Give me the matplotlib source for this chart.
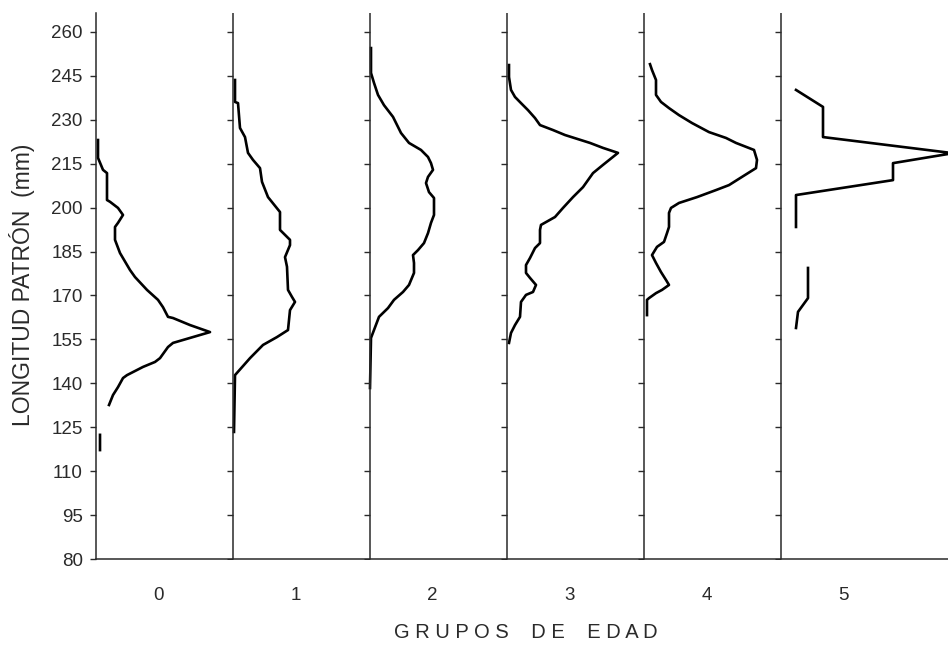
import matplotlib
matplotlib.use("Agg")
import matplotlib.pyplot as plt
import numpy as np

nan = np.nan

# longitud patron (mm) y frecuencia relativa (unidades del grafico) por grupo de edad
grupos = ["0", "1", "2", "3", "4", "5"]

long_g0 = [223.1, 217, 212.9, 211.8, 202.6, 202, 199.9, 197.5, 194.8, 193.4, 189, 184.5,
           178.7, 176.3, 171.9, 168.5, 166, 162.7, 162.3, 159.9, 157.5, 155.5, 153.8, 152.4,
           148.6, 147.3, 145.6, 142.8, 141.8, 138.7, 136, 132.6, nan, 122.4, 117.2]
frec_g0 = [2, 2, 7, 11, 11, 14, 22, 27, 22, 19, 19, 24, 34, 39, 51, 62, 67, 72, 77, 94,
           114, 94, 77, 72, 64, 59, 47, 31, 27, 22, 17, 13, nan, 4, 4]

long_g1 = [243.6, 236.1, 235.7, 227.2, 224.1, 218.7, 216.3, 213.5, 208.8, 203.6, 198.5,
           192.4, 189, 187.2, 183.1, 179.8, 171.9, 169.5, 167.8, 165, 158.2, 155.8, 153.1,
           148.6, 142.8, 123.4]
frec_g1 = [2, 2, 5, 7, 12, 15, 20, 27, 29, 35, 47, 47, 57, 57, 52, 54, 55, 59, 62, 57, 55,
           44, 30, 17, 2, 1]

long_g2 = [254.5, 246, 242.6, 238.5, 235, 231, 225.5, 222.1, 219.7, 217.3, 215.2, 212.9,
           210.5, 208.4, 205.3, 203.3, 197.5, 194.8, 191.3, 187.9, 185.5, 183.8, 181.1,
           177.7, 173.6, 171.2, 168.5, 165.7, 162.7, 158.2, 155.5, 138.4]
frec_g2 = [1, 1, 4, 8, 14, 23, 31, 39, 51, 58, 61, 63, 58, 56, 59, 64, 64, 61, 58, 54, 48,
           43, 44, 44, 39, 33, 24, 18, 9, 4, 1, 0]

long_g3 = [248.7, 244.6, 240.2, 237.8, 235.7, 233.3, 230.6, 228.2, 226.5, 224.8, 222.1,
           220.4, 218.7, 214.6, 211.8, 207, 203.6, 199.9, 196.8, 194.1, 192.4, 187.9, 186.2,
           182.8, 180.4, 177.7, 176, 173.6, 171.2, 170.2, 167.8, 162.7, 159.9, 157.2, 153.8]
frec_g3 = [2, 2, 4, 8, 14, 21, 28, 33, 46, 58, 83, 96, 111, 96, 86, 76, 66, 56, 48, 34, 33,
           33, 28, 23, 19, 19, 23, 29, 26, 19, 14, 13, 8, 4, 2]

long_g4 = [249, 247, 243.6, 238.5, 236.1, 234, 231.6, 228.9, 225.8, 223.8, 222.1, 219.7,
           216.3, 213.5, 210.5, 207.7, 206, 203.6, 201.6, 199.9, 198.2, 193.4, 191.3, 188.3,
           186.6, 183.8, 181.1, 178, 175.3, 173.6, 171.9, 170.8, 169.1, 168.5, 163.3]
frec_g4 = [6, 8, 12, 12, 17, 25, 35, 48, 65, 82, 92, 110, 113, 112, 98, 85, 72, 53, 35, 27,
           25, 25, 23, 20, 13, 8, 12, 17, 22, 25, 18, 12, 5, 3, 3]

long_g5 = [240.2, 234.4, 224.1, 218.6, 215.2, 209.4, 204.3, 193.4, nan, 179.4, 169.1, 164.4, 158.9]
frec_g5 = [15, 42, 42, 172, 112, 112, 15, 15, nan, 27, 27, 17, 15]

longitudes = [long_g0, long_g1, long_g2, long_g3, long_g4, long_g5]
frecuencias = [frec_g0, frec_g1, frec_g2, frec_g3, frec_g4, frec_g5]

y_ticks = np.arange(80, 261, 15)
ancho = 137.0  # frecuencia equivalente al ancho de un grupo

plt.rcParams["font.family"] = ["Liberation Sans", "DejaVu Sans"]
gris = "#2a2a2a"

fig = plt.figure(figsize=(9.48, 6.46), dpi=100)
ax = fig.add_axes([96 / 948, 87 / 646, 852 / 948, (559 - 13) / 646])

for g, (lon, fr) in enumerate(zip(longitudes, frecuencias)):
    x = g + np.array(fr, dtype=float) / ancho
    ax.plot(x, lon, color="black", linewidth=1.9, solid_joinstyle="round")
    if g > 0:
        ax.axvline(g, color=gris, linewidth=1.1)
        ax.plot([g] * len(y_ticks), y_ticks, linestyle="none", marker=0,
                markersize=4.5, markeredgewidth=1.0, color=gris)

ax.set_xlim(0, 852 / ancho)
ax.set_ylim(80, 80 + (559 - 13) / 2.928)
ax.set_yticks(y_ticks)
ax.set_xticks(np.arange(len(grupos)) + 0.455)
ax.set_xticklabels(grupos)
ax.tick_params(axis="y", direction="out", length=4.5, width=1.0, pad=5,
               labelsize=13.5, colors=gris)
ax.tick_params(axis="x", length=0, pad=20, labelsize=13.5, colors=gris)

for s in ["top", "right"]:
    ax.spines[s].set_visible(False)
for s in ["left", "bottom"]:
    ax.spines[s].set_linewidth(1.1)
    ax.spines[s].set_color(gris)

fig.text(22 / 948, 1 - 285 / 646, "LONGITUD PATRÓN  (mm)", rotation=90,
         ha="center", va="center", fontsize=16.5, color=gris)
fig.text(526 / 948, 1 - 632 / 646, "G R U P O S    D E    E D A D",
         ha="center", va="center", fontsize=14.5, color=gris)

fig.savefig("out.png", dpi=100)
